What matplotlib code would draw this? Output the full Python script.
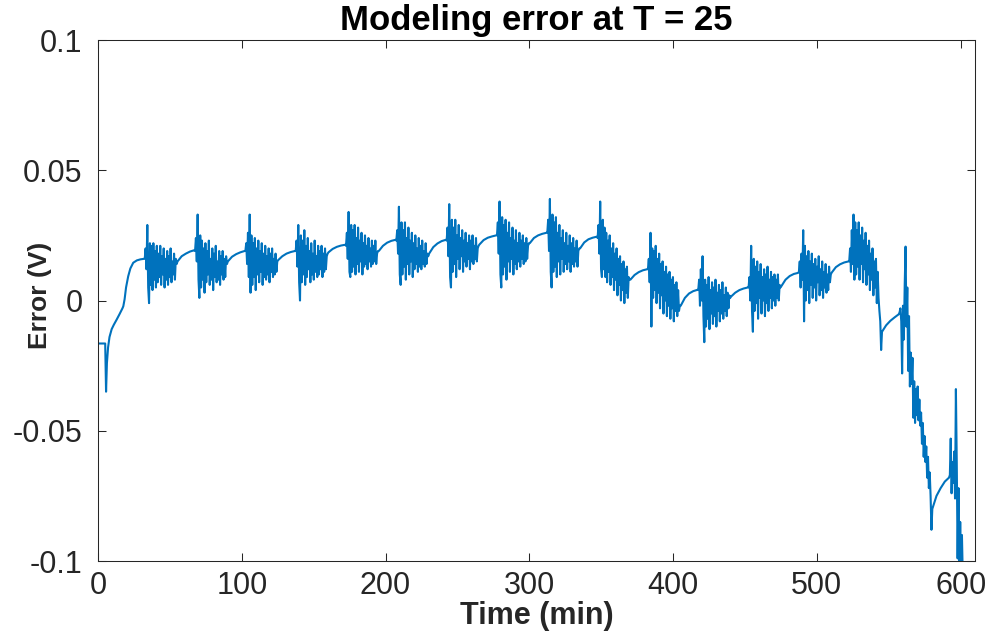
# Modeling error at T = 25 (MATLAB-style figure)

import numpy as np
import matplotlib.pyplot as plt

# ---- data (time in min, error in mV) ----
start_t = [0, 5.0, 5.6, 6.2, 7, 8, 9.5, 11, 13, 15, 17, 17.6, 18.5, 19.5, 21, 22.5, 24.5, 27, 29.5, 31.9]
start_v = [-16.5, -16.5, -35, -24, -18, -14, -11, -9.3, -7.3, -5.2, -3, -2.2, 0.5, 5, 9.3, 12.3, 14.5, 15.4, 15.8, 16]

burst_start = [32.5, 67.5, 102.5, 137.5, 172.5, 207.5, 242.5, 277.5, 312.5,
               347.5, 382.5, 417.5, 452.5, 487.5, 522.5, 557.5, 592.5]
burst_dt = 0.6

burst_01 = [16, 20, 12, 29, 5, -1, 22, 6, 21, 4, 22, 8, 19, 5, 21, 7, 18, 9, 21, 6,
            17, 10, 20, 5, 16, 8, 19, 6, 17, 9, 20, 7, 15, 10, 18, 8, 16, 14]
burst_02 = [19, 24, 15, 33, 8, 1, 25, 5, 23, 8, 20, 3, 22, 7, 19, 10, 23, 6, 16, 8,
            20, 4, 18, 9, 21, 7, 15, 8, 19, 6, 17, 10, 19, 8, 16, 9, 17, 14]
burst_03 = [19, 22, 14, 26, 9, 33, 3, 25, 6, 22, 9, 24, 4, 20, 10, 23, 7, 19, 11, 22,
            6, 18, 9, 21, 8, 17, 10, 20, 7, 18, 11, 20, 9, 16, 10, 18, 11, 15]
burst_04 = [19, 23, 13, 29, 7, 0, 25, 7, 23, 10, 27, 6, 21, 9, 24, 12, 19, 7, 22, 10,
            18, 8, 23, 11, 17, 9, 21, 10, 19, 12, 21, 9, 18, 11, 20, 12, 17, 18]
burst_05 = [21, 26, 16, 34, 11, 9, 29, 11, 27, 13, 29, 10, 24, 14, 28, 11, 23, 15, 26, 10,
            22, 13, 25, 14, 21, 12, 24, 15, 20, 13, 23, 14, 21, 15, 23, 14, 18, 19]
burst_06 = [23, 27, 18, 36, 10, 6, 30, 10, 27, 13, 30, 8, 24, 14, 28, 10, 23, 15, 26, 9,
            22, 12, 25, 14, 20, 11, 24, 13, 21, 12, 23, 14, 19, 13, 22, 14, 18, 17]
burst_07 = [23, 28, 17, 37, 9, 5, 31, 11, 28, 14, 31, 9, 25, 16, 29, 12, 24, 17, 27, 11,
            23, 15, 26, 13, 22, 16, 25, 12, 23, 15, 25, 14, 21, 16, 24, 15, 20, 21]
burst_08 = [25, 30, 18, 38, 10, 5, 32, 10, 29, 13, 31, 8, 26, 15, 30, 11, 24, 16, 28, 10,
            23, 14, 27, 12, 22, 15, 26, 13, 23, 16, 25, 14, 22, 15, 24, 16, 21, 22]
burst_09 = [26, 31, 19, 39, 11, 5, 33, 11, 30, 13, 32, 9, 26, 15, 29, 10, 24, 16, 27, 11,
            22, 14, 26, 12, 21, 15, 25, 11, 22, 14, 24, 13, 20, 15, 23, 13, 19, 20]
burst_10 = [24, 29, 18, 38, 12, 9, 31, 12, 28, 9, 26, 7, 23, 11, 25, 6, 20, 9, 22, 4,
            18, 8, 20, 2, 16, 6, 17, 0, 14, 4, 15, -1, 12, 3, 13, 1, 9, 8]
burst_11 = [12, 16, 7, 26, -10, 20, 1, 19, 4, 21, -1, 16, 3, 18, -3, 14, 2, 15, -5, 11,
            0, 13, -6, 10, -2, 11, -7, 8, -3, 9, -8, 6, -4, 7, -6, 4, -4, -2]
burst_12 = [4, 8, -2, 12, 0, 17, -6, -16, 8, -10, 6, -7, 9, -11, 4, -5, 7, -9, 5, -6,
            8, -10, 3, -4, 6, -8, 4, -5, 7, -7, 2, -4, 5, -6, 3, -3, 2, 1]
burst_13 = [5, 9, 0, 21, -4, -12, 16, -4, 13, -1, 15, -7, 11, 1, 14, -5, 9, 0, 12, -6,
            10, -1, 13, -4, 8, 1, 11, -3, 9, 0, 10, -2, 8, 1, 10, 0, 6, 5]
burst_14 = [11, 15, 5, 18, 8, 27, -8, 21, 0, 17, 4, 19, -1, 15, 6, 18, 1, 14, 5, 16,
            0, 13, 7, 17, 2, 12, 4, 15, 1, 11, 5, 14, 3, 10, 4, 13, 7, 10]
burst_15 = [15, 20, 11, 27, 14, 33, 8, 30, 10, 27, 13, 30, 8, 25, 14, 28, 7, 23, 12, 26,
            6, 21, 10, 23, 4, 18, 8, 20, 2, 15, 5, 16, -1, 11, 1, -4, -8, -19]
burst_16 = [-4.6, -3, -8, -28, -2, -15, 6, 20.7, -10, 5, -27, -6, -33, -20, -32, -22, -45, -31, -47, -34,
            -44, -33, -46, -38, -48, -43, -55, -47, -60, -52, -62, -56, -68, -60, -72, -66, -75, -88]
burst_17 = [-67, -53, -74, -62, -70, -58, -76, -34, -62, -99, -72, -105, -85, -104, -90, -106]

relax_01 = [15, 17, 18, 18.8, 19.3]
relax_02 = [15, 16.8, 17.8, 18.5, 19]
relax_03 = [15.5, 17, 18, 18.6, 19]
relax_04 = [18.5, 19.8, 20.6, 21.1, 21.4]
relax_05 = [19, 21, 22.2, 22.9, 23.3]
relax_06 = [18, 20.5, 21.9, 22.8, 23.3]
relax_07 = [21.5, 23.2, 24.1, 24.6, 25]
relax_08 = [22, 24, 25, 25.6, 26]
relax_09 = [20, 22.3, 23.5, 24.1, 24.5]
relax_10 = [8, 9.8, 10.9, 11.6, 12]
relax_11 = [-2, 1, 2.7, 3.6, 4.1]
relax_12 = [1.5, 3, 4, 4.6, 5]
relax_13 = [5.5, 8, 9.4, 10.2, 10.6]
relax_14 = [10.7, 12.8, 13.9, 14.6, 15]
relax_15 = [-12, -9.5, -7.8, -6.5, -5.3]
relax_16 = [-80, -75, -72, -69.5, -68]

x_ticks = [0, 100, 200, 300, 400, 500, 600]
y_ticks = [-0.1, -0.05, 0, 0.05, 0.1]
y_tick_labels = ['-0.1', '-0.05', '0', '0.05', '0.1']

# ---- assemble the series ----
bursts = [burst_01, burst_02, burst_03, burst_04, burst_05, burst_06, burst_07, burst_08, burst_09,
          burst_10, burst_11, burst_12, burst_13, burst_14, burst_15, burst_16, burst_17]
relaxes = [relax_01, relax_02, relax_03, relax_04, relax_05, relax_06, relax_07, relax_08,
           relax_09, relax_10, relax_11, relax_12, relax_13, relax_14, relax_15, relax_16]

t_all = list(start_t)
v_all = list(start_v)
for k, (s, vals) in enumerate(zip(burst_start, bursts)):
    t_all += list(s + burst_dt * np.arange(len(vals)))
    v_all += list(vals)
    if k < len(relaxes):
        r = relaxes[k]
        t_all += list(np.linspace(s + burst_dt * len(vals), burst_start[k + 1] - burst_dt, len(r)))
        v_all += list(r)

t_all = np.array(t_all)
v_all = np.array(v_all) / 1000.0

# ---- plot ----
plt.rcParams['font.family'] = ['Liberation Sans', 'DejaVu Sans']
dark = '#262626'

fig = plt.figure(figsize=(9.94, 6.33), dpi=100)
ax = fig.add_axes([0.0986, 0.1137, 0.8823, 0.8231])

ax.plot(t_all, v_all, color='#0072BD', linewidth=1.5)

ax.set_xlim(0, 610)
ax.set_ylim(-0.1, 0.1)
ax.set_xticks(x_ticks)
ax.set_yticks(y_ticks)
ax.set_yticklabels(y_tick_labels)

ax.tick_params(direction='in', length=5.5, width=0.75, colors=dark,
               labelsize=22, top=True, right=True)
ax.tick_params(axis='x', pad=7)
ax.tick_params(axis='y', pad=11)
for sp in ax.spines.values():
    sp.set_color(dark)
    sp.set_linewidth(0.75)

ax.set_title('Modeling error at T = 25', fontsize=25, fontweight='bold', color='black', pad=7)
ax.set_xlabel('Time (min)', fontsize=22, fontweight='bold', color=dark, labelpad=0)
ax.set_ylabel('Error (V)', fontsize=19, fontweight='bold', color=dark)
ax.yaxis.set_label_coords(-0.052, 0.51)

fig.savefig('out.png', dpi=100)
